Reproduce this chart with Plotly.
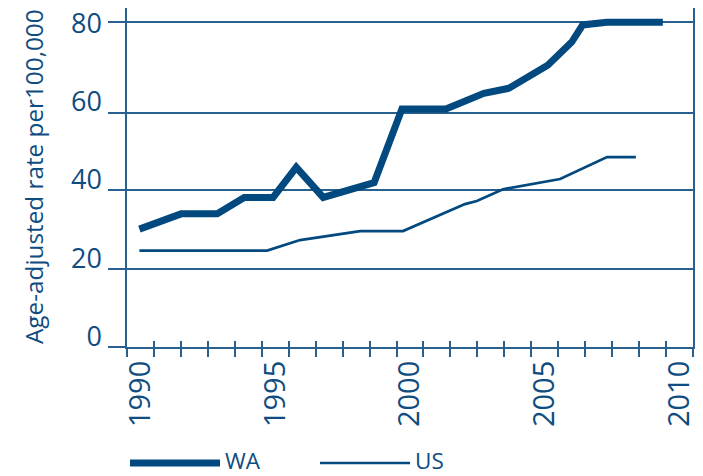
import plotly.graph_objects as go

# ---- data ----
wa_years = [1990.46, 1992.01, 1993.35, 1994.35, 1995.42, 1996.28, 1997.28, 1999.17,
            2000.20, 2001.83, 2003.24, 2004.17, 2005.61, 2006.50, 2006.91, 2007.80, 2009.88]
wa_rate = [27.4, 31.3, 31.3, 35.5, 35.5, 43.2, 35.5, 39.3,
           58.1, 58.1, 62.1, 63.4, 69.3, 75.2, 79.6, 80.3, 80.3]

us_years = [1990.46, 1995.20, 1996.42, 1998.65, 2000.24, 2002.54, 2002.98, 2003.95,
            2006.07, 2007.81, 2008.88]
us_rate = [21.9, 21.9, 24.6, 26.9, 26.9, 33.8, 34.6, 37.6, 40.2, 45.8, 45.8]

y_tick_values = [0, 20, 40, 60, 80]
y_tick_labels = ["0", "20", "40", "60", "80"]
x_tick_years = [1990, 1995, 2000, 2005, 2010]
x_tick_labels = ["1990", "1995", "2000", "2005", "2010"]
series_names = ["WA", "US"]

# ---- style / layout constants ----
OFF = 8                      # page body margin of the browser
W, H = 703 - OFF, 476 - OFF
ML, MR, MT, MB = 127 - OFF, 10, 0, H - (347 - OFF)
BLUE = "#02497f"
TEXT = "#0f4c80"
GRID = "#2a6090"
FONT = "Open Sans"
X_RANGE = [1990, 2011]
Y_RANGE = [-2.73, 83.92]
GRID_LINES = [-2.7, 17.12, 37.47, 57.15, 80.26]  # drawn gridline positions (as in the picture)

PW, PH = W - ML - MR, H - MT - MB


def px_x(px):
    return (px - OFF - ML) / PW


def px_y(py):
    return (H - MB - (py - OFF)) / PH


fig = go.Figure()
fig.add_trace(go.Scatter(x=wa_years, y=wa_rate, mode="lines", name=series_names[0],
                         line=dict(color=BLUE, width=7), showlegend=False))
fig.add_trace(go.Scatter(x=us_years, y=us_rate, mode="lines", name=series_names[1],
                         line=dict(color=BLUE, width=2.7), showlegend=False))

fig.update_layout(
    width=W, height=H,
    margin=dict(l=ML, r=MR, t=MT, b=MB, pad=0, autoexpand=False),
    paper_bgcolor="white", plot_bgcolor="white",
    font=dict(family=FONT, color=TEXT),
    showlegend=False,
    xaxis=dict(range=X_RANGE, tick0=1990, dtick=1, ticks="outside", ticklen=8,
               tickwidth=1.5, tickcolor=GRID, showticklabels=False, showgrid=False,
               zeroline=False, showline=True, linecolor=GRID, linewidth=1.8, mirror=False,
               automargin=False),
    xaxis2=dict(range=X_RANGE, overlaying="x", anchor="y", side="bottom",
                tickvals=[v + 0.5 for v in x_tick_years], ticktext=x_tick_labels,
                tickangle=-90, ticks="", ticklabelstandoff=7, ticklabeloverflow="allow",
                tickfont=dict(size=29, color=TEXT, family=FONT),
                showgrid=False, zeroline=False, showline=False, automargin=False),
    xaxis3=dict(range=X_RANGE, overlaying="x", anchor="y", side="bottom",
                tick0=1990, dtick=1, ticks="inside", ticklen=6, tickwidth=1.5,
                tickcolor=GRID, showticklabels=False, showgrid=False,
                zeroline=False, showline=False, automargin=False),
    yaxis=dict(range=Y_RANGE, tickvals=GRID_LINES, showticklabels=False,
               ticks="outside", ticklen=17, tickwidth=1.5, tickcolor=GRID,
               showgrid=True, gridcolor=GRID, gridwidth=1.5, zeroline=False,
               showline=True, linecolor=GRID, linewidth=1.8, mirror=True,
               automargin=False),
    yaxis2=dict(range=Y_RANGE, overlaying="y", anchor="x", side="left",
                tickvals=y_tick_values, ticktext=y_tick_labels, ticks="",
                ticklabelstandoff=24, ticklabeloverflow="allow",
                tickfont=dict(size=27, color=TEXT, family=FONT),
                showgrid=False, zeroline=False, showline=False, automargin=False),
)

# empty traces so the overlay axes are rendered
fig.add_trace(go.Scatter(x=[], y=[], xaxis="x2", yaxis="y", showlegend=False))
fig.add_trace(go.Scatter(x=[], y=[], xaxis="x3", yaxis="y", showlegend=False))
fig.add_trace(go.Scatter(x=[], y=[], xaxis="x", yaxis="y2", showlegend=False))

# y-axis title
fig.add_annotation(text="Age-adjusted rate per100,000", xref="paper", yref="paper",
                   x=px_x(33), y=px_y(177), xanchor="center", yanchor="middle",
                   textangle=-90, showarrow=False,
                   font=dict(size=24.3, color=TEXT, family=FONT))

# custom legend (long line swatches)
legend_items = [(series_names[0], 7, 130, 220, 224), (series_names[1], 2.7, 320, 410, 414)]
for name, lw, x0, x1, tx in legend_items:
    fig.add_shape(type="line", xref="paper", yref="paper",
                  x0=px_x(x0), x1=px_x(x1), y0=px_y(463), y1=px_y(463),
                  line=dict(color=BLUE, width=lw))
    fig.add_annotation(text=name, xref="paper", yref="paper", x=px_x(tx), y=px_y(460.5),
                       xanchor="left", yanchor="middle", showarrow=False, borderpad=0,
                       font=dict(size=22.5, color=TEXT, family=FONT))

fig.write_html("out.html")
